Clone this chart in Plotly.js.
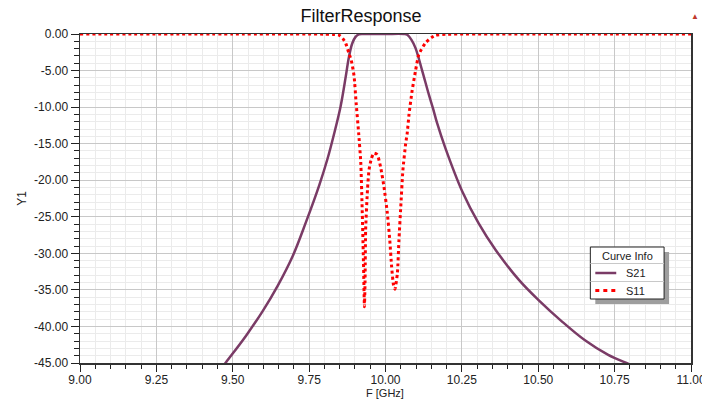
<!DOCTYPE html>
<html>
<head>
<meta charset="utf-8">
<script src="https://cdn.plot.ly/plotly-3.0.1.min.js"></script>
<style>html,body{margin:0;padding:0;background:#fff;overflow:hidden;}#chart{width:702px;height:399px;}</style>
</head>
<body>
<div id="chart"></div>
<script>
// S21 (transmission), frequency in GHz and magnitude in dB
const s21Freq = [9.460, 9.478, 9.543, 9.598, 9.647, 9.696, 9.739, 9.783, 9.810, 9.832, 9.853, 9.870, 9.880, 9.891, 9.902, 9.913, 9.930, 10.000, 10.060, 10.071, 10.085, 10.098, 10.120, 10.142, 10.155, 10.169, 10.196, 10.251, 10.305, 10.360, 10.436, 10.501, 10.577, 10.653, 10.729, 10.805, 10.850];
const s21dB   = [-45.9, -44.9, -41.3, -37.9, -34.45, -30.4, -25.8, -20.7, -17.1, -13.6, -9.9, -5.8, -3.2, -1.3, -0.4, -0.05, 0.0, 0.0, 0.0, -0.1, -0.8, -1.9, -5.0, -8.3, -10.1, -12.2, -15.6, -21.5, -25.9, -29.5, -33.6, -36.4, -39.3, -41.9, -43.9, -45.3, -46.2];

// S11 (reflection)
const s11Freq = [9.000, 9.500, 9.800, 9.826, 9.848, 9.860, 9.870, 9.880, 9.888, 9.897, 9.904, 9.912, 9.919, 9.924, 9.928, 9.931, 9.933, 9.935, 9.941, 9.946, 9.954, 9.962, 9.973, 9.984, 9.995, 10.006, 10.014, 10.020, 10.026, 10.031, 10.039, 10.044, 10.050, 10.057, 10.066, 10.071, 10.077, 10.087, 10.098, 10.109, 10.131, 10.150, 10.164, 10.200, 10.500, 11.000];
const s11dB   = [0.0, 0.0, -0.02, -0.05, -0.15, -0.6, -1.3, -2.6, -3.6, -5.7, -9.5, -13.5, -17.5, -24.5, -31.4, -37.3, -34.1, -26.8, -21.3, -18.6, -17.0, -16.3, -16.5, -18.2, -20.9, -24.5, -28.2, -31.8, -34.3, -34.9, -32.7, -28.2, -23.6, -18.6, -15.0, -13.6, -11.0, -7.8, -5.1, -2.8, -1.2, -0.5, -0.15, -0.03, 0.0, 0.0];

// Axis ticks
const xTickVals = [9.00, 9.25, 9.50, 9.75, 10.00, 10.25, 10.50, 10.75, 11.00];
const xTickText = ["9.00", "9.25", "9.50", "9.75", "10.00", "10.25", "10.50", "10.75", "11.00"];
const yTickVals = [0, -5, -10, -15, -20, -25, -30, -35, -40, -45];
const yTickText = ["0.00", "-5.00", "-10.00", "-15.00", "-20.00", "-25.00", "-30.00", "-35.00", "-40.00", "-45.00"];

// Legend entries
const legendTitle = 'Curve Info';
const seriesNames = ['S21', 'S11'];
const seriesColors = ['#7a3b66', '#ff0000'];

const traces = [
  {x: s21Freq, y: s21dB, name: seriesNames[0], type: 'scatter', mode: 'lines',
   line: {color: seriesColors[0], width: 2.5, shape: 'spline', smoothing: 1.0}},
  {x: s11Freq, y: s11dB, name: seriesNames[1], type: 'scatter', mode: 'lines',
   line: {color: seriesColors[1], width: 3, dash: 'dot', shape: 'spline', smoothing: 0.5}}
];

const FONT = 'Liberation Sans, Arial, sans-serif';
const L = 80, R = 693, T = 34, B = 363;
const px = v => (v - L) / (R - L);
const py = v => (B - v) / (B - T);

// legend box geometry (pixels)
const LX0 = 592, LX1 = 666, LY0 = 247, LY1 = 299;

const layout = {
  width: 702, height: 399,
  margin: {l: L, r: 702 - R, t: T, b: 399 - B, pad: 0},
  paper_bgcolor: '#ffffff', plot_bgcolor: '#ffffff',
  font: {family: FONT, size: 12, color: '#222'},
  title: {text: 'FilterResponse', font: {family: FONT, size: 18, color: '#111'},
          x: 361 / 702, xref: 'container', xanchor: 'center', y: 1 - 16 / 399, yref: 'container', yanchor: 'middle'},
  xaxis: {
    range: [9, 11], tickvals: xTickVals, ticktext: xTickText, ticklabeloverflow: 'allow',
    ticks: 'outside', ticklen: 7, tickcolor: '#222', tickwidth: 1, ticklabelstandoff: -2,
    showline: true, linecolor: '#333', linewidth: 1.5, mirror: true,
    showgrid: true, gridcolor: '#c8c8c8', gridwidth: 1, zeroline: false,
    minor: {dtick: 0.05, showgrid: true, gridcolor: '#ebebeb', gridwidth: 1, ticks: 'outside', ticklen: 4, tickcolor: '#222'},
    tickfont: {family: FONT, size: 12, color: '#222'},
    automargin: false, fixedrange: true
  },
  yaxis: {
    range: [-45, 0], tickvals: yTickVals, ticktext: yTickText,
    ticks: 'outside', ticklen: 8, tickcolor: '#222', tickwidth: 1,
    showline: true, linecolor: '#333', linewidth: 1.5, mirror: true,
    showgrid: true, gridcolor: '#c8c8c8', gridwidth: 1, zeroline: false,
    minor: {dtick: 1, showgrid: true, gridcolor: '#ebebeb', gridwidth: 1, ticks: 'outside', ticklen: 5, tickcolor: '#222'},
    tickfont: {family: FONT, size: 12, color: '#222'},
    title: {text: 'Y1', font: {family: FONT, size: 12, color: '#222'}, standoff: 5},
    automargin: true, fixedrange: true
  },
  showlegend: false,
  shapes: [
    // legend shadow, box, separators, samples
    {type: 'rect', xref: 'paper', yref: 'paper', x0: px(LX0 + 5), x1: px(LX1 + 5), y0: py(LY0 + 5), y1: py(LY1 + 5),
     fillcolor: '#9e9e9e', line: {width: 0}, layer: 'above'},
    {type: 'rect', xref: 'paper', yref: 'paper', x0: px(LX0), x1: px(LX1), y0: py(LY0), y1: py(LY1),
     fillcolor: '#ffffff', line: {color: '#222', width: 1}, layer: 'above'},
    {type: 'line', xref: 'paper', yref: 'paper', x0: px(LX0), x1: px(LX1), y0: py(263.5), y1: py(263.5),
     line: {color: '#c8c8c8', width: 1}, layer: 'above'},
    {type: 'line', xref: 'paper', yref: 'paper', x0: px(LX0), x1: px(LX1), y0: py(281.5), y1: py(281.5),
     line: {color: '#c8c8c8', width: 1}, layer: 'above'},
    {type: 'line', xref: 'paper', yref: 'paper', x0: px(597), x1: px(618), y0: py(273), y1: py(273),
     line: {color: seriesColors[0], width: 2.5}, layer: 'above'},
    {type: 'line', xref: 'paper', yref: 'paper', x0: px(597), x1: px(618), y0: py(290.5), y1: py(290.5),
     line: {color: seriesColors[1], width: 3, dash: '4px,4px'}, layer: 'above'}
  ],
  annotations: [
    {text: legendTitle, xref: 'paper', yref: 'paper', x: px(629), y: py(255.5), showarrow: false,
     font: {family: FONT, size: 11, color: '#222'}, xanchor: 'center', yanchor: 'middle'},
    {text: seriesNames[0], xref: 'paper', yref: 'paper', x: px(626), y: py(273), showarrow: false,
     font: {family: FONT, size: 11, color: '#222'}, xanchor: 'left', yanchor: 'middle'},
    {text: seriesNames[1], xref: 'paper', yref: 'paper', x: px(626), y: py(290.5), showarrow: false,
     font: {family: FONT, size: 11, color: '#222'}, xanchor: 'left', yanchor: 'middle'},
    {text: 'F [GHz]', xref: 'paper', yref: 'paper', x: px(386), y: py(393), showarrow: false,
     font: {family: FONT, size: 11, color: '#222'}, xanchor: 'center', yanchor: 'middle'},
    {text: '\u25B2', xref: 'paper', yref: 'paper', x: px(697), y: py(17), showarrow: false,
     font: {size: 8, color: '#c0392b'}, xanchor: 'center', yanchor: 'middle'}
  ]
};

Plotly.newPlot('chart', traces, layout, {displayModeBar: false, staticPlot: true});
</script>
</body>
</html>
